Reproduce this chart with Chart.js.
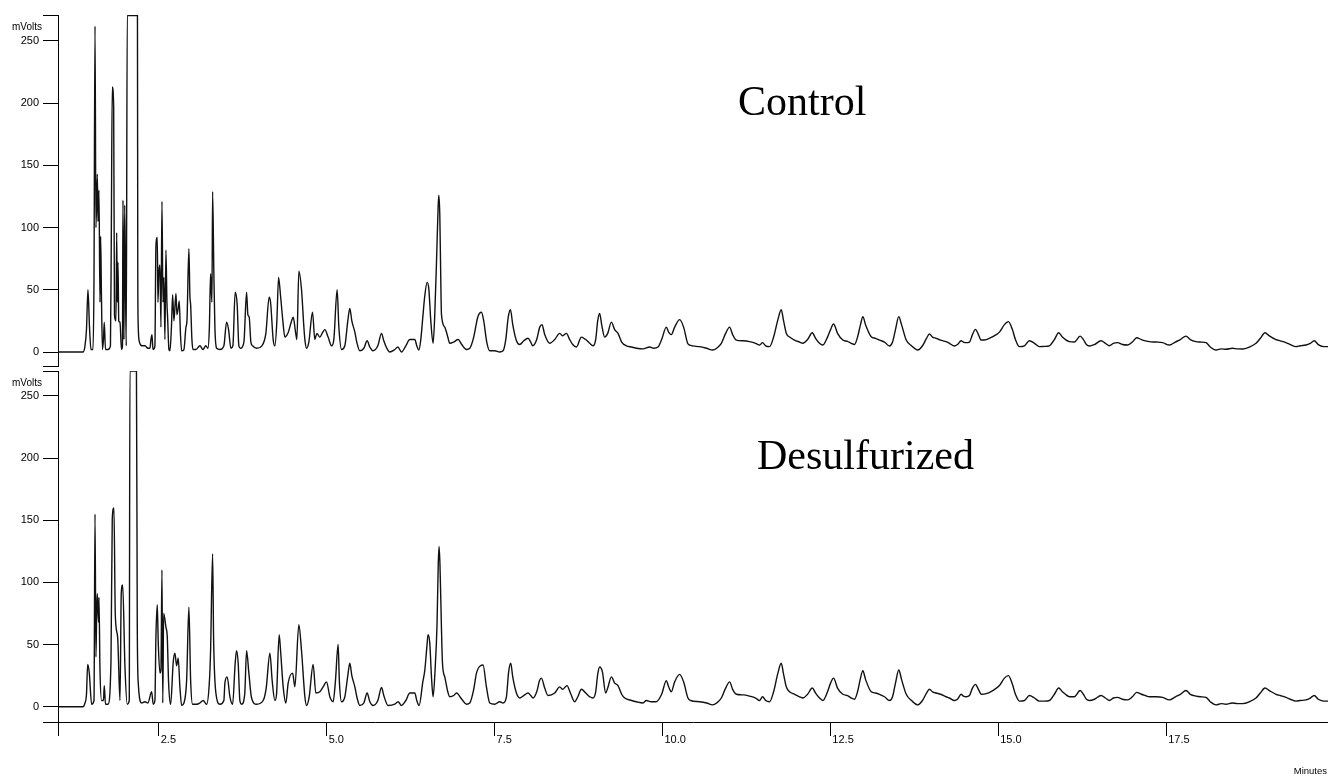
<!DOCTYPE html>
<html>
<head>
<meta charset="utf-8">
<title>Control vs Desulfurized chromatogram</title>
<script src="https://cdn.jsdelivr.net/npm/chart.js@4.4.1/dist/chart.umd.min.js"></script>
<style>
  html, body { margin: 0; padding: 0; background: #fff; }
  #wrap { position: relative; width: 1328px; height: 778px; overflow: hidden; }
  canvas { position: absolute; left: 0; }
  .unit { position: absolute; font: 10px "Liberation Sans", Arial, sans-serif; color: #000; }
  .tag { position: absolute; font: 42px "Liberation Serif", "Times New Roman", serif; line-height: 42px; color: #000; white-space: nowrap; }
</style>
</head>
<body>
<div id="wrap">
  <canvas id="control-chart" width="1328" height="368" style="top:0"></canvas>
  <canvas id="desulf-chart" width="1328" height="410" style="top:368px"></canvas>
  <div class="unit" style="left:12px;top:21px">mVolts</div>
  <div class="unit" style="left:12px;top:377px">mVolts</div>
  <div class="tag" style="left:738px;top:80px">Control</div>
  <div class="tag" style="left:757px;top:434px">Desulfurized</div>
  <div class="unit" style="right:1px;top:765px;font-size:9.5px">Minutes</div>
</div>
<script>
// ==========================================
// A. DATA (minutes / mVolts)
// ==========================================
const xTickValues = [1.0, 2.5, 5.0, 7.5, 10.0, 12.5, 15.0, 17.5];
const yTickValues = [0, 50, 100, 150, 200, 250];

const controlTime = [
  1.000, 1.372, 1.402, 1.424, 1.446, 1.469, 1.491, 1.521, 1.536, 1.551, 1.565, 1.585, 1.595, 1.610, 1.625, 1.635,
  1.647, 1.662, 1.677, 1.689, 1.707, 1.744, 1.781, 1.793, 1.808, 1.829, 1.841, 1.863, 1.874, 1.882, 1.893, 1.905,
  1.923, 1.945, 1.960, 1.967, 1.982, 1.993, 2.004, 2.016, 2.031, 2.183, 2.188, 2.195, 2.213, 2.250, 2.295, 2.339,
  2.369, 2.384, 2.399, 2.414, 2.443, 2.458, 2.478, 2.488, 2.503, 2.518, 2.533, 2.548, 2.563, 2.577, 2.592, 2.607,
  2.622, 2.632, 2.652, 2.667, 2.689, 2.707, 2.726, 2.756, 2.771, 2.790, 2.805, 2.823, 2.841, 2.875, 2.905, 2.920,
  2.949, 2.964, 2.975, 2.994, 3.009, 3.054, 3.113, 3.158, 3.202, 3.232, 3.254, 3.272, 3.292, 3.302, 3.321, 3.336,
  3.362, 3.411, 3.470, 3.510, 3.540, 3.574, 3.604, 3.638, 3.668, 3.693, 3.719, 3.768, 3.808, 3.827, 3.847, 3.872,
  3.897, 3.957, 4.036, 4.095, 4.144, 4.165, 4.204, 4.229, 4.259, 4.284, 4.314, 4.348, 4.378, 4.423, 4.478, 4.502,
  4.537, 4.557, 4.586, 4.626, 4.661, 4.676, 4.701, 4.735, 4.790, 4.824, 4.854, 4.899, 4.943, 4.973, 5.022, 5.073,
  5.107, 5.156, 5.182, 5.222, 5.271, 5.315, 5.345, 5.375, 5.420, 5.449, 5.494, 5.554, 5.603, 5.643, 5.688, 5.762,
  5.817, 5.851, 5.896, 5.940, 6.015, 6.060, 6.115, 6.179, 6.238, 6.313, 6.342, 6.372, 6.402, 6.432, 6.461, 6.496,
  6.521, 6.551, 6.585, 6.610, 6.640, 6.659, 6.670, 6.685, 6.699, 6.710, 6.759, 6.804, 6.833, 6.893, 6.957, 7.012,
  7.082, 7.131, 7.190, 7.250, 7.305, 7.339, 7.384, 7.429, 7.503, 7.577, 7.627, 7.667, 7.704, 7.737, 7.771, 7.826,
  7.875, 7.935, 7.999, 8.039, 8.068, 8.128, 8.173, 8.207, 8.247, 8.321, 8.396, 8.470, 8.515, 8.570, 8.619, 8.664,
  8.719, 8.793, 8.857, 8.917, 8.966, 9.006, 9.036, 9.065, 9.095, 9.140, 9.185, 9.240, 9.289, 9.338, 9.393, 9.463,
  9.542, 9.616, 9.710, 9.810, 9.869, 9.933, 9.988, 10.058, 10.092, 10.132, 10.182, 10.256, 10.315, 10.375, 10.405, 10.554,
  10.658, 10.747, 10.807, 10.877, 10.941, 11.000, 11.045, 11.100, 11.208, 11.298, 11.387, 11.446, 11.491, 11.536, 11.595, 11.655,
  11.719, 11.769, 11.804, 11.844, 11.893, 11.967, 12.042, 12.091, 12.161, 12.231, 12.280, 12.339, 12.389, 12.458, 12.503, 12.548,
  12.607, 12.686, 12.756, 12.811, 12.860, 12.905, 12.949, 12.984, 13.024, 13.109, 13.173, 13.232, 13.307, 13.381, 13.426, 13.470,
  13.519, 13.560, 13.630, 13.708, 13.802, 13.872, 13.932, 13.976, 14.021, 14.076, 14.140, 14.225, 14.274, 14.348, 14.393, 14.448,
  14.482, 14.522, 14.571, 14.616, 14.661, 14.705, 14.746, 14.824, 14.918, 15.018, 15.092, 15.152, 15.211, 15.256, 15.315, 15.390,
  15.464, 15.539, 15.613, 15.688, 15.762, 15.836, 15.900, 15.955, 16.000, 16.060, 16.134, 16.219, 16.268, 16.313, 16.357, 16.432,
  16.531, 16.595, 16.655, 16.714, 16.778, 16.848, 16.927, 16.997, 17.061, 17.131, 17.190, 17.250, 17.354, 17.448, 17.548, 17.637,
  17.711, 17.796, 17.860, 17.945, 18.009, 18.094, 18.158, 18.243, 18.321, 18.391, 18.485, 18.560, 18.639, 18.738, 18.838, 18.902,
  18.972, 19.036, 19.136, 19.199, 19.284, 19.348, 19.433, 19.497, 19.582, 19.646, 19.705, 19.765, 19.854, 19.929
];
const controlSignal = [
  0, 0, 5, 18, 50, 20, 2, 2, 60, 262, 100, 143, 105, 130, 40, 93,
  45, 2, 10, 24, 2, 2, 5, 87, 213, 197, 30, 25, 96, 40, 72, 25,
  24, 2, 5, 122, 10, 118, 60, 5, 270.5, 270.5, 60, 20, 8, 5, 5, 3,
  3, 10, 14, 2, 5, 85, 92, 40, 65, 70, 20, 121, 40, 60, 10, 82,
  40, 28, 2, 1, 20, 46, 25, 47, 30, 35, 41, 15, 1, 2, 20, 25,
  83, 45, 38, 10, 2, 2, 5, 2, 5, 3, 20, 63, 40, 129, 62, 20,
  3, 2, 5, 24, 18, 3, 5, 48, 38, 5, 3, 8, 48, 30, 28, 8,
  5, 3, 5, 15, 44, 40, 10, 5, 25, 60, 45, 25, 12, 15, 25, 28,
  16, 10, 65, 50, 20, 10, 3, 8, 32, 10, 15, 12, 16, 18, 12, 5,
  10, 50, 20, 2, 5, 25, 35, 25, 16, 8, 1, 3, 9, 4, 1, 5,
  15, 9, 3, 0, 2, 4, 0, 5, 10, 10, 5, 1.5, 10, 28, 45, 56,
  51, 25, 7, 30, 80, 115, 126, 110, 60, 30, 20, 12, 7, 8, 10, 6,
  2, 3, 12, 28, 32, 25, 8, 1, 1, 0, 1, 10, 28, 34, 22, 9,
  6, 9, 11, 8, 5, 10, 20, 22, 14, 7, 10, 15, 13, 15, 10, 6,
  4, 12, 10, 7, 5, 10, 25, 31, 22, 12, 15, 24, 18, 15, 8, 5,
  4, 3, 2.5, 4, 3, 4, 10, 20, 16, 14, 20, 26, 20, 7, 5.5, 4.3,
  3, 1.6, 3, 7, 15, 20, 14, 9.6, 9, 8.3, 7, 5.6, 7.5, 5, 4.3, 12,
  26, 34, 25, 15, 12, 9.6, 8, 7, 10, 15.5, 11, 7, 5.6, 12, 18, 22.5,
  15, 9.6, 8.5, 7, 6, 12, 22, 28.4, 22, 12.3, 11, 9.6, 8, 4.8, 8, 18,
  28.4, 22, 9.6, 5, 1.6, 5, 11, 14.5, 12, 11, 9.5, 8.3, 7, 4.8, 6, 9,
  8, 7.5, 8, 14, 18.2, 14, 9.6, 10, 12.3, 16, 22, 24.4, 18, 10, 4.3, 5,
  9.1, 7, 4.3, 4.5, 5, 10, 15.5, 12, 10, 8.3, 8, 12.8, 10, 6, 4.8, 6,
  9, 7, 5, 7, 7.5, 6, 5.6, 8, 11.5, 10, 9, 8.3, 8, 7.5, 5.6, 8,
  10, 12.8, 10, 8.3, 8, 7.5, 4, 1.6, 2.5, 2.2, 3, 2.5, 2.4, 4, 7, 11,
  15.5, 13, 10, 9, 7.5, 6, 4.3, 5, 5.6, 7, 9, 6, 4.3, 4.3
];

const desulfTime = [
  1.000, 1.372, 1.402, 1.424, 1.442, 1.466, 1.501, 1.536, 1.551, 1.565, 1.576, 1.585, 1.603, 1.610, 1.625, 1.650,
  1.677, 1.689, 1.707, 1.744, 1.789, 1.808, 1.833, 1.853, 1.888, 1.923, 1.942, 1.963, 1.997, 2.031, 2.061, 2.071,
  2.168, 2.180, 2.195, 2.246, 2.295, 2.339, 2.394, 2.418, 2.443, 2.458, 2.478, 2.493, 2.518, 2.533, 2.548, 2.560,
  2.573, 2.607, 2.627, 2.647, 2.677, 2.716, 2.741, 2.766, 2.790, 2.815, 2.841, 2.875, 2.915, 2.949, 2.975, 3.004,
  3.068, 3.113, 3.162, 3.213, 3.254, 3.272, 3.302, 3.317, 3.351, 3.411, 3.470, 3.485, 3.519, 3.560, 3.600, 3.638,
  3.659, 3.683, 3.708, 3.734, 3.780, 3.808, 3.842, 3.882, 3.957, 4.055, 4.100, 4.155, 4.189, 4.229, 4.254, 4.293,
  4.314, 4.353, 4.393, 4.427, 4.493, 4.527, 4.586, 4.626, 4.676, 4.701, 4.740, 4.799, 4.839, 4.899, 4.948, 4.998,
  5.048, 5.097, 5.130, 5.171, 5.190, 5.222, 5.271, 5.315, 5.345, 5.375, 5.420, 5.449, 5.494, 5.554, 5.603, 5.643,
  5.692, 5.762, 5.817, 5.851, 5.915, 6.015, 6.064, 6.115, 6.179, 6.238, 6.313, 6.342, 6.377, 6.432, 6.461, 6.495,
  6.510, 6.536, 6.560, 6.585, 6.615, 6.644, 6.662, 6.674, 6.687, 6.699, 6.725, 6.759, 6.804, 6.833, 6.893, 6.933,
  7.012, 7.082, 7.131, 7.190, 7.231, 7.290, 7.329, 7.379, 7.429, 7.503, 7.577, 7.627, 7.677, 7.710, 7.741, 7.771,
  7.826, 7.875, 7.935, 7.999, 8.039, 8.073, 8.128, 8.170, 8.198, 8.247, 8.296, 8.396, 8.470, 8.515, 8.579, 8.630,
  8.693, 8.740, 8.793, 8.857, 8.917, 8.966, 9.006, 9.036, 9.065, 9.106, 9.155, 9.185, 9.240, 9.289, 9.338, 9.393,
  9.438, 9.542, 9.612, 9.710, 9.760, 9.830, 9.909, 9.988, 10.058, 10.092, 10.132, 10.182, 10.256, 10.315, 10.380, 10.420,
  10.554, 10.658, 10.747, 10.807, 10.877, 10.941, 11.000, 11.045, 11.100, 11.208, 11.298, 11.387, 11.446, 11.491, 11.536, 11.595,
  11.655, 11.719, 11.769, 11.804, 11.844, 11.893, 11.967, 12.042, 12.091, 12.161, 12.231, 12.280, 12.339, 12.389, 12.458, 12.503,
  12.548, 12.607, 12.686, 12.756, 12.811, 12.860, 12.905, 12.949, 12.984, 13.024, 13.109, 13.173, 13.232, 13.307, 13.381, 13.426,
  13.470, 13.519, 13.560, 13.630, 13.708, 13.802, 13.872, 13.932, 13.976, 14.021, 14.076, 14.140, 14.225, 14.274, 14.348, 14.393,
  14.448, 14.482, 14.522, 14.571, 14.616, 14.661, 14.705, 14.746, 14.824, 14.918, 15.018, 15.092, 15.152, 15.211, 15.256, 15.315,
  15.390, 15.464, 15.539, 15.613, 15.688, 15.762, 15.836, 15.900, 15.955, 16.000, 16.060, 16.134, 16.219, 16.268, 16.313, 16.357,
  16.432, 16.531, 16.595, 16.655, 16.714, 16.778, 16.848, 16.927, 16.997, 17.061, 17.131, 17.190, 17.250, 17.354, 17.448, 17.548,
  17.637, 17.711, 17.796, 17.860, 17.945, 18.009, 18.094, 18.158, 18.243, 18.321, 18.391, 18.485, 18.560, 18.639, 18.738, 18.838,
  18.902, 18.972, 19.036, 19.136, 19.199, 19.284, 19.348, 19.433, 19.497, 19.582, 19.646, 19.705, 19.765, 19.854, 19.929
];
const desulfSignal = [
  0, 0, 3, 10, 34, 27, 2, 5, 155, 40, 78, 91, 68, 88, 30, 5,
  5, 17, 2, 2, 37, 151, 160, 74, 56, 5, 91, 98, 32, 2, 5, 270,
  270, 70, 19, 3, 4, 3, 12, 2, 5, 56, 82, 51, 27, 30, 110, 3,
  75, 64, 56, 19, 2, 36, 43, 33, 39, 16, 1, 3, 21, 80, 21, 2,
  2, 3, 5, 2, 20, 45, 123, 54, 11, 2, 5, 19, 24, 8, 2, 35,
  45, 35, 5, 2, 10, 45, 27, 7, 2, 5, 15, 43, 21, 5, 10, 58,
  45, 16, 3, 19, 27, 16, 66, 45, 8, 1, 8, 34, 11, 12, 16, 20,
  8, 4, 20, 50, 20, 4, 8, 25, 35, 25, 16, 8, 1, 3, 11, 4,
  1, 5, 15.5, 9, 1, 2, 4, 1, 5, 11, 11, 5, 1, 20, 29, 50,
  58, 51, 25, 8, 30, 67, 115, 129, 115, 88, 35, 24, 12, 8, 9, 11,
  6, 2, 3, 14, 27, 33, 33.5, 16, 3, 2, 4, 3, 8, 28, 35, 24,
  11, 7, 9, 11, 9, 7, 12, 21, 23, 15, 9, 11, 16, 14, 17, 11,
  4, 8, 14, 11, 8, 7, 12, 26, 32, 28, 11, 15, 24, 19, 17, 10,
  7, 5, 4, 3, 5, 4, 4, 10, 21, 16, 12, 20, 26, 20, 7, 5,
  4, 3, 1.5, 3, 7, 15, 20, 14, 10, 9.5, 8.5, 7, 5, 8, 5, 4,
  12, 27, 35, 26, 16, 12, 10, 8, 7, 10, 15, 11, 7, 5, 12, 19,
  23, 15, 10, 9, 7, 6, 12, 23, 29, 22, 12, 11, 10, 8, 5, 8,
  19, 29.5, 22, 10, 5, 1.5, 5, 11, 14, 12, 11, 10, 8, 7, 5, 6,
  10, 8.5, 8, 9, 15, 18, 14, 10, 10.5, 13, 17, 23, 25, 18, 10, 4.5,
  5, 9, 7, 4.5, 4.5, 5, 10, 15, 12, 10, 8, 8, 13, 10, 6, 5,
  6, 9, 7, 5, 7, 7.5, 6, 5.5, 8, 11.5, 10, 9, 8, 8, 7.5, 5.5,
  8, 10, 13, 10, 8.5, 8, 7.5, 4, 1.5, 2.5, 2, 3, 2.5, 2.5, 4, 7,
  11, 15, 13, 10, 9, 7.5, 6, 4.5, 5, 5.5, 7, 9, 6, 4.5, 4.5
];

// ==========================================
// B. SETUP CHART
// ==========================================
const X_MIN = 1.0;
const X_MAX = 19.91;
const AXIS_FONT = { family: '"Liberation Sans", Arial, sans-serif', size: 11 };

function createTrace(elementId, times, signal, cfg) {
    const canvas = document.getElementById(elementId);
    if (!canvas) return null;
    return new Chart(canvas.getContext('2d'), {
        type: 'line',
        data: {
            datasets: [{
                data: times.map((t, i) => ({ x: t, y: signal[i] })),
                borderColor: '#111',
                borderWidth: 1.4,
                pointRadius: 0,
                fill: false,
                cubicInterpolationMode: 'monotone'
            }]
        },
        options: {
            responsive: false,
            animation: false,
            events: [],
            layout: { padding: { top: cfg.padTop, bottom: cfg.padBottom, left: 0, right: 0 } },
            plugins: { legend: { display: false }, tooltip: { enabled: false } },
            scales: {
                x: {
                    type: 'linear', min: X_MIN, max: X_MAX, display: cfg.showX,
                    afterBuildTicks: s => { s.ticks = xTickValues.map(v => ({ value: v })); },
                    afterFit: s => {
                        s.height = cfg.showX ? 56 : 0;
                        s.paddingLeft = 0; s.paddingRight = 0;
                    },
                    border: { display: true, color: '#000', width: 1 },
                    grid: { drawOnChartArea: false, tickLength: 14, color: '#000' },
                    ticks: {
                        autoSkip: false, maxRotation: 0, align: 'start', labelOffset: 2, padding: -3,
                        color: '#000', font: AXIS_FONT,
                        callback: v => (v === X_MIN ? '' : v.toFixed(1))
                    }
                },
                y: {
                    type: 'linear', min: cfg.yMin, max: cfg.yMax,
                    // axis ends get a bare tick mark (the little caps)
                    afterBuildTicks: s => { s.ticks = [s.min, ...yTickValues, s.max].map(v => ({ value: v })); },
                    afterFit: s => {
                        s.width = 58;
                        s.paddingTop = 0; s.paddingBottom = 0;
                    },
                    border: { display: true, color: '#000', width: 1 },
                    grid: { drawOnChartArea: false, tickLength: 15, color: '#000' },
                    ticks: {
                        autoSkip: false, padding: 4, color: '#000', font: AXIS_FONT,
                        callback: v => (yTickValues.includes(v) ? String(v) : '')
                    }
                }
            }
        }
    });
}

const controlChart = createTrace('control-chart', controlTime, controlSignal,
    { yMin: -11.25, yMax: 270.9, padTop: 15, padBottom: 2, showX: false });
const desulfChart = createTrace('desulf-chart', desulfTime, desulfSignal,
    { yMin: -12.3, yMax: 270.1, padTop: 3, padBottom: 0, showX: true });
</script>
</body>
</html>
